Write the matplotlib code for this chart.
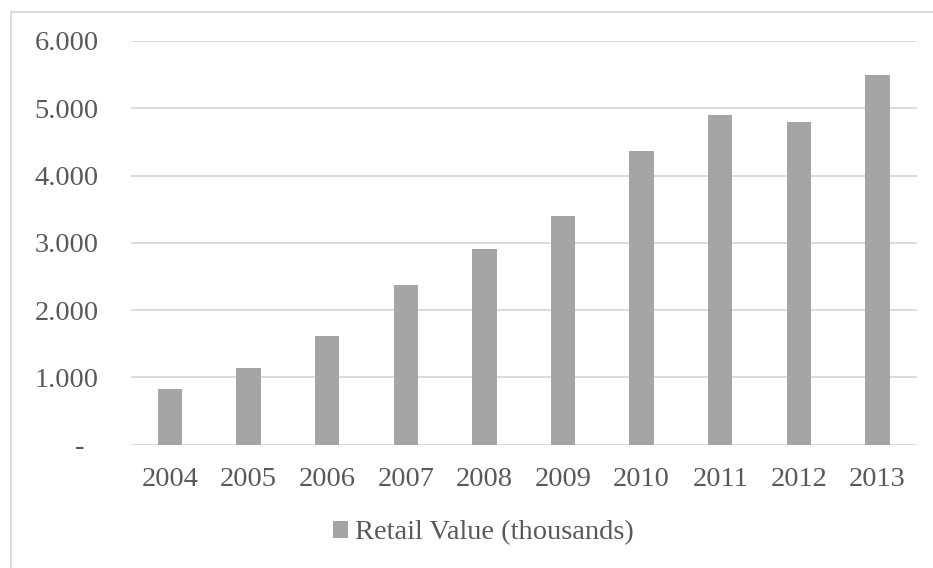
import numpy as np
import matplotlib.pyplot as plt
from matplotlib.ticker import FuncFormatter
from matplotlib.lines import Line2D

years = ['2004', '2005', '2006', '2007', '2008', '2009', '2010', '2011', '2012', '2013']
retail_value = [830, 1140, 1620, 2380, 2910, 3400, 4370, 4905, 4800, 5500]
y_ticks = [0, 1000, 2000, 3000, 4000, 5000, 6000]
series_name = 'Retail Value (thousands)'

bar_color = '#A5A5A5'
grid_color = '#D9D9D9'
text_color = '#595959'

plt.rcParams['font.family'] = ['Liberation Serif', 'DejaVu Serif']
plt.rcParams['font.size'] = 20.5

W, H = 933, 568
fig = plt.figure(figsize=(W / 100, H / 100), dpi=100)
ax = fig.add_axes([130.7 / W, 1 - 444.7 / H, (916.7 - 130.7) / W, (444.7 - 41) / H])

x = np.arange(len(years))
ax.bar(x, retail_value, width=0.31, color=bar_color, zorder=3, label=series_name)

ax.set_xlim(-0.5, len(years) - 0.5)
ax.set_ylim(0, 6000)
ax.set_yticks(y_ticks)
ax.set_xticks(x)
ax.set_xticklabels(years)


def fmt(v, pos):
    if v == 0:
        return '-  '
    return f'{int(v):,}'.replace(',', '.')


ax.yaxis.set_major_formatter(FuncFormatter(fmt))
ax.yaxis.grid(True, color=grid_color, linewidth=1.3, zorder=0)
ax.set_axisbelow(True)
for s in ax.spines.values():
    s.set_visible(False)
ax.tick_params(axis='both', length=0, colors=text_color)
ax.tick_params(axis='y', pad=23)
ax.tick_params(axis='x', pad=16)

# chart border
fig.add_artist(Line2D([11 / W, 11 / W], [0, 1 - 12 / H], color=grid_color, linewidth=1.3,
                      transform=fig.transFigure))
fig.add_artist(Line2D([11 / W, 1], [1 - 12 / H, 1 - 12 / H], color=grid_color, linewidth=1.3,
                      transform=fig.transFigure))

leg = fig.legend(loc='center', bbox_to_anchor=(483 / W, 1 - 533 / H), frameon=False,
                 handlelength=0.55, handleheight=0.55, handletextpad=0.22,
                 labelcolor=text_color)

fig.savefig('out.png', dpi=100)
